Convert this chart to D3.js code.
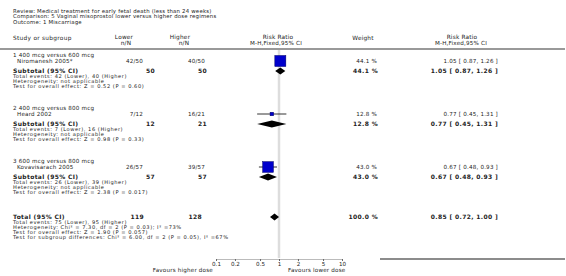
<!DOCTYPE html>
<html>
<head>
<meta charset="utf-8">
<script src="https://cdn.jsdelivr.net/npm/d3@7"></script>
<style>
  body { margin: 0; background: #fff; }
  text { font-family: "DejaVu Sans", sans-serif; fill: #222; }
</style>
</head>
<body>
<div id="forest"></div>
<script>
// data
var titleLines = ["Review:  Medical treatment for early fetal death (less than 24 weeks)",
                  "Comparison:  5 Vaginal misoprostol lower versus higher dose regimens",
                  "Outcome:  1 Miscarriage"]
var groups = ["1 400 mcg versus 600 mcg", "2 400 mcg versus 800 mcg", "3 600 mcg versus 800 mcg"]
var studies = ["Niromanesh 2005*", "Heard 2002", "Kovavisarach 2005"]
var lowerEvents = [42, 7, 26]
var lowerN = [50, 12, 57]
var higherEvents = [40, 16, 39]
var higherN = [50, 21, 57]
var rr = [1.05, 0.77, 0.67]
var ciLow = [0.87, 0.45, 0.48]
var ciHigh = [1.26, 1.31, 0.93]
var weights = [44.1, 12.8, 43.0]
var overallTests = ["Z = 0.52 (P = 0.60)", "Z = 0.98 (P = 0.33)", "Z = 2.38 (P = 0.017)"]

var total = {rr: 0.85, lo: 0.72, hi: 1.00, lowerN: 119, higherN: 128, weight: 100.0}
var totalNotes = ["Total events: 75 (Lower), 95 (Higher)",
                  "Heterogeneity: Chi\u00b2 = 7.30, df = 2 (P = 0.03); I\u00b2 =73%",
                  "Test for overall effect: Z = 1.90 (P = 0.057)",
                  "Test for subgroup differences: Chi\u00b2 = 6.00, df = 2 (P = 0.05), I\u00b2 =67%"]

var tickValues = [0.1, 0.2, 0.5, 1, 2, 5, 10]
var tickLabels = ["0.1", "0.2", "0.5", "1", "2", "5", "10"]

var width = 566
var height = 276

var svg = d3.select("#forest")
  .append("svg")
  .attr("width", width)
  .attr("height", height)

var x = d3.scaleLog().domain([0.1, 10]).range([216, 342])
var side = d3.scaleLinear().domain([0, 100]).range([0, 25])

function fmt(v) { return v.toFixed(2) }
function ciText(r, lo, hi) {
  return fmt(r) + " [ " + fmt(lo) + ", " + fmt(hi) + " ]"
}

function txt(xp, yp, s, opts) {
  opts = opts || {}
  return svg.append("text")
    .attr("x", xp).attr("y", yp)
    .attr("dy", "0.35em")
    .attr("text-anchor", opts.anchor || "start")
    .style("font-size", (opts.size || 5.6) + "px")
    .style("letter-spacing", (opts.ls || 0.2) + "px")
    .style("font-weight", opts.bold ? "bold" : "normal")
    .text(s)
}

var note = {size: 5.1, ls: 0.55}
function boldOpt(anchor) { return {bold: true, size: 6, ls: 0.35, anchor: anchor} }

// title block
titleLines.forEach(function(t, i) { txt(13, 11 + i * 5.5, t, {size: 5.4, ls: 0.2}) })

// column headers
txt(13, 38, "Study or subgroup", {size: 5.8, ls: 0.3})
txt(124, 37, "Lower", {anchor: "middle", size: 5.8})
txt(126, 43, "n/N", {anchor: "middle", size: 5.8})
txt(180, 37, "Higher", {anchor: "middle", size: 5.8})
txt(184, 43, "n/N", {anchor: "middle", size: 5.8})
txt(278, 37, "Risk Ratio", {anchor: "middle", size: 5.8})
txt(276, 43, "M-H,Fixed,95% CI", {anchor: "middle", size: 5.6})
txt(363, 38, "Weight", {anchor: "middle", size: 5.8})
txt(462, 37, "Risk Ratio", {anchor: "middle", size: 5.8})
txt(461, 43, "M-H,Fixed,95% CI", {anchor: "middle", size: 5.6})

svg.append("line")
  .attr("x1", 0).attr("x2", 565).attr("y1", 49).attr("y2", 49)
  .style("stroke", "#999").style("stroke-width", 2)

// line of no effect
svg.append("line")
  .attr("x1", x(1)).attr("x2", x(1)).attr("y1", 50).attr("y2", 258)
  .style("stroke", "#ddd").style("stroke-width", 2.5)

function diamond(r, lo, hi, yc) {
  var h = 3.4
  svg.append("path")
    .attr("d", "M" + x(lo) + "," + yc + "L" + x(r) + "," + (yc - h) +
               "L" + x(hi) + "," + yc + "L" + x(r) + "," + (yc + h) + "Z")
    .style("fill", "#000")
}

var groupTop = [55, 108, 161]

groups.forEach(function(g, i) {
  var y0 = groupTop[i]
  var ys = y0 + 6
  var ysub = y0 + 16
  txt(13, y0, g)
  txt(17, ys, studies[i])
  txt(143, ys, lowerEvents[i] + "/" + lowerN[i], {anchor: "end"})
  txt(205, ys, higherEvents[i] + "/" + higherN[i], {anchor: "end"})
  txt(377, ys, weights[i].toFixed(1) + " %", {anchor: "end"})
  txt(498, ys, ciText(rr[i], ciLow[i], ciHigh[i]), {anchor: "end"})

  // study CI + square
  svg.append("line")
    .attr("x1", x(ciLow[i])).attr("x2", x(ciHigh[i]))
    .attr("y1", ys).attr("y2", ys)
    .style("stroke", "#000").style("stroke-width", 0.8)
  var s = Math.max(3.5, side(weights[i]))
  svg.append("rect")
    .attr("x", x(rr[i]) - s / 2).attr("y", ys - s / 2)
    .attr("width", s).attr("height", s)
    .style("fill", "#0000cc").style("stroke", "#000066").style("stroke-width", 0.5)

  // subtotal row
  txt(13, ysub, "Subtotal (95% CI)", boldOpt())
  txt(155, ysub, lowerN[i], boldOpt("end"))
  txt(207, ysub, higherN[i], boldOpt("end"))
  txt(378, ysub, weights[i].toFixed(1) + " %", boldOpt("end"))
  txt(498, ysub, ciText(rr[i], ciLow[i], ciHigh[i]), boldOpt("end"))
  diamond(rr[i], ciLow[i], ciHigh[i], ysub)

  txt(13, ysub + 5.2, "Total events: " + lowerEvents[i] + " (Lower), " + higherEvents[i] + " (Higher)", note)
  txt(13, ysub + 10.2, "Heterogeneity: not applicable", note)
  txt(13, ysub + 15.2, "Test for overall effect: " + overallTests[i], note)
})

// overall total
var yt = 217
txt(13, yt, "Total (95% CI)", boldOpt())
txt(144, yt, total.lowerN, boldOpt("end"))
txt(202, yt, total.higherN, boldOpt("end"))
txt(378, yt, total.weight.toFixed(1) + " %", boldOpt("end"))
txt(498, yt, ciText(total.rr, total.lo, total.hi), boldOpt("end"))
diamond(total.rr, total.lo, total.hi, yt)
totalNotes.forEach(function(t, i) { txt(13, yt + 5.2 + i * 5, t, note) })

svg.append("line")
  .attr("x1", 380).attr("x2", 565).attr("y1", 259).attr("y2", 259)
  .style("stroke", "#666").style("stroke-width", 1.5)

// axis
var axis = svg.append("g")
  .attr("transform", "translate(0,259)")
  .call(d3.axisBottom(x).tickValues(tickValues)
    .tickFormat(function(d, i) { return tickLabels[i] }).tickSize(2).tickPadding(1))
axis.select(".domain").style("stroke", "#bbb")
axis.selectAll(".tick line").style("stroke", "#666")
axis.selectAll("text").style("font-size", "5.6px").style("font-family", "DejaVu Sans")

txt(213, 270, "Favours higher dose", {anchor: "end"})
txt(288, 270, "Favours lower dose")
</script>
</body>
</html>
